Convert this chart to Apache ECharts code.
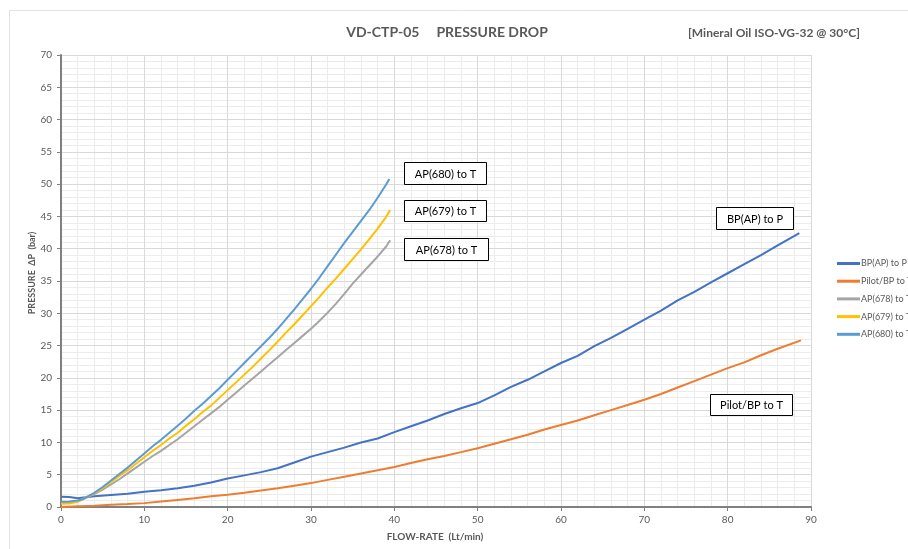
<!DOCTYPE html>
<html>
<head>
<meta charset="utf-8">
<script src="https://cdn.jsdelivr.net/npm/echarts@6/dist/echarts.min.js"></script>
<style>
html,body{margin:0;padding:0;background:#fff;}
#c{width:908px;height:549px;}
</style>
</head>
<body>
<div id="c"></div>
<script>
// ---- data ----
const seriesNames = ['BP(AP) to P', 'Pilot/BP to T', 'AP(678) to T', 'AP(679) to T', 'AP(680) to T'];

const flowBP = [0,1,2,3,4,6,8,10,12,14,16,18,20,22,24,26,28,30,32,34,36,38,40,42,44,46,48,50,52,54,56,58,60,62,64,66,68,70,72,74,76,78,80,82,84,86,88.6];
const dpBP   = [1.6,1.55,1.35,1.5,1.65,1.85,2.05,2.35,2.6,2.9,3.3,3.8,4.4,4.9,5.4,6.0,6.9,7.8,8.5,9.2,10.0,10.6,11.6,12.5,13.4,14.4,15.3,16.1,17.3,18.6,19.7,21.0,22.3,23.4,24.9,26.2,27.6,29.0,30.4,32.0,33.3,34.8,36.2,37.6,39.0,40.5,42.4];

const flowPilot = [0,2,4,6,8,10,12,14,16,18,20,22,24,26,28,30,32,34,36,38,40,42,44,46,48,50,52,54,56,58,60,62,64,66,68,70,72,74,76,78,80,82,84,86,88.8];
const dpPilot   = [0.0,0.1,0.2,0.35,0.45,0.6,0.85,1.1,1.35,1.65,1.9,2.2,2.55,2.9,3.3,3.7,4.2,4.7,5.2,5.7,6.2,6.8,7.4,7.9,8.5,9.1,9.8,10.5,11.2,12.0,12.7,13.4,14.2,15.0,15.8,16.6,17.5,18.5,19.5,20.5,21.5,22.4,23.5,24.5,25.8];

const flow678 = [0,1,2,2.6,3,4,5,6,7,8,9,10,11,12,13,14,15,16,17,18,19,20,21,22,23,24,25,26,27,28,29,30,31,32,33,34,35,36,37,38,39,39.5];
const dp678   = [0.7,0.75,0.9,1.2,1.4,2.0,2.7,3.5,4.3,5.2,6.1,7.0,7.9,8.7,9.6,10.5,11.5,12.5,13.5,14.5,15.5,16.6,17.7,18.8,19.9,21.0,22.1,23.2,24.3,25.4,26.5,27.6,28.8,30.1,31.5,33.0,34.6,36.0,37.4,38.8,40.3,41.3];

const flow679 = [0,1,2,2.6,3,4,5,6,7,8,9,10,11,12,13,14,15,16,17,18,19,20,21,22,23,24,25,26,27,28,29,30,31,32,33,34,35,36,37,38,39,39.5];
const dp679   = [0.5,0.55,0.8,1.2,1.5,2.1,2.9,3.9,4.8,5.7,6.7,7.7,8.7,9.6,10.6,11.5,12.6,13.6,14.7,15.7,16.9,18.1,19.3,20.5,21.7,23.0,24.3,25.6,27.0,28.3,29.7,31.1,32.5,34.0,35.4,36.9,38.4,39.9,41.5,43.1,44.9,46.0];

const flow680 = [0,1,2,2.6,3,4,5,6,7,8,9,10,11,12,13,14,15,16,17,18,19,20,21,22,23,24,25,26,27,28,29,30,31,32,33,34,35,36,37,38,39,39.4];
const dp680   = [0.8,0.85,1.0,1.2,1.5,2.2,3.1,4.1,5.1,6.1,7.2,8.3,9.4,10.4,11.5,12.6,13.7,14.9,16.0,17.2,18.4,19.7,21.0,22.3,23.6,24.9,26.2,27.6,29.1,30.6,32.2,33.8,35.5,37.3,39.1,40.9,42.6,44.3,46.0,47.9,49.9,50.8];

const xTicks = {min: 0, max: 90, interval: 10, minorInterval: 2};
const yTicks = {min: 0, max: 70, interval: 5, minorInterval: 1};
// ---------------------------------------

const colors = ['#4472C4', '#ED7D31', '#A5A5A5', '#FFC000', '#5B9BD5'];
const FONT = 'Lato, "Open Sans", sans-serif';

function pairs(xs, ys) { return xs.map((x, i) => [x, ys[i]]); }
const allData = [pairs(flowBP, dpBP), pairs(flowPilot, dpPilot), pairs(flow678, dp678), pairs(flow679, dp679), pairs(flow680, dp680)];

function box(x, y, w, h, label) {
  return {
    type: 'group', x: x, y: y, z: 100,
    children: [
      {type: 'rect', z: 100, shape: {x: 0.5, y: 0.5, width: w, height: h}, style: {fill: '#fff', stroke: '#000', lineWidth: 1}},
      {type: 'text', z: 101, x: w / 2 + 0.5, y: h / 2 + 1, style: {text: label, fill: '#000', font: '11px ' + FONT, textAlign: 'center', textVerticalAlign: 'middle'}}
    ]
  };
}

function minorAxis(t, pos) {
  return {
    type: 'value', min: t.min, max: t.max, interval: t.minorInterval, position: pos, z: 0,
    axisLine: {show: false}, axisTick: {show: false}, axisLabel: {show: false},
    splitLine: {show: true, lineStyle: {color: '#ececec', width: 1}}
  };
}

const chart = echarts.init(document.getElementById('c'), null, {renderer: 'canvas'});
chart.setOption({
  animation: false,
  backgroundColor: '#fff',
  color: colors,
  grid: {left: 61, right: 97, top: 55, bottom: 42, containLabel: false},
  legend: {
    orient: 'vertical', left: 832, top: 254,
    itemWidth: 23, itemHeight: 3, itemGap: 8.7, icon: 'rect',
    textStyle: {fontSize: 9, color: '#595959', fontFamily: FONT, padding: [0, 0, 0, -4]},
    data: seriesNames
  },
  xAxis: [{
    type: 'value', min: xTicks.min, max: xTicks.max, interval: xTicks.interval, position: 'bottom', z: 1,
    axisLine: {show: true, onZero: false, lineStyle: {color: '#808080', width: 2}},
    axisTick: {show: true, length: 4, lineStyle: {color: '#808080'}},
    axisLabel: {color: '#595959', fontSize: 10, fontFamily: FONT, margin: 8},
    splitLine: {show: true, lineStyle: {color: '#d9d9d9', width: 1}}
  }, minorAxis(xTicks, 'bottom')],
  yAxis: [{
    type: 'value', min: yTicks.min, max: yTicks.max, interval: yTicks.interval, position: 'left', z: 1,
    axisLine: {show: true, onZero: false, lineStyle: {color: '#808080', width: 2}},
    axisTick: {show: true, length: 4, lineStyle: {color: '#808080'}},
    axisLabel: {color: '#595959', fontSize: 10, fontFamily: FONT, margin: 9},
    splitLine: {show: true, lineStyle: {color: '#d9d9d9', width: 1}}
  }, minorAxis(yTicks, 'left')],
  series: seriesNames.map((n, i) => ({
    name: n, type: 'line', data: allData[i], xAxisIndex: 0, yAxisIndex: 0,
    showSymbol: false, symbol: 'none',
    lineStyle: {width: 2, color: colors[i]}, itemStyle: {color: colors[i]}, z: 2 + i
  })),
  graphic: [
    {type: 'rect', silent: true, z: -10, shape: {x: 9.5, y: 10.5, width: 920, height: 560}, style: {fill: 'none', stroke: '#e3e3e3', lineWidth: 1}},
    {type: 'text', z: 100, x: 447, y: 32, style: {text: 'VD-CTP-05     PRESSURE DROP', fill: '#595959', font: 'bold 14px ' + FONT, textAlign: 'center', textVerticalAlign: 'middle'}},
    {type: 'text', z: 100, x: 774, y: 33, style: {text: '[Mineral Oil ISO-VG-32 @ 30°C]', fill: '#595959', font: 'bold 12px ' + FONT, textAlign: 'center', textVerticalAlign: 'middle'}},
    {type: 'text', z: 100, x: 32, y: 273, rotation: Math.PI / 2, style: {text: 'PRESSURE  ΔP  (bar)', fill: '#595959', font: 'bold 9px ' + FONT, textAlign: 'center', textVerticalAlign: 'middle'}},
    {type: 'text', z: 100, x: 435, y: 537, style: {text: 'FLOW-RATE  (Lt/min)', fill: '#595959', font: 'bold 10px ' + FONT, textAlign: 'center', textVerticalAlign: 'middle'}},
    box(404, 162, 82, 22, 'AP(680) to T'),
    box(404, 200, 82, 21, 'AP(679) to T'),
    box(404, 238, 84, 22, 'AP(678) to T'),
    box(716, 207, 77, 22, 'BP(AP) to P'),
    box(710, 394, 82, 21, 'Pilot/BP to T')
  ]
});
</script>
</body>
</html>
